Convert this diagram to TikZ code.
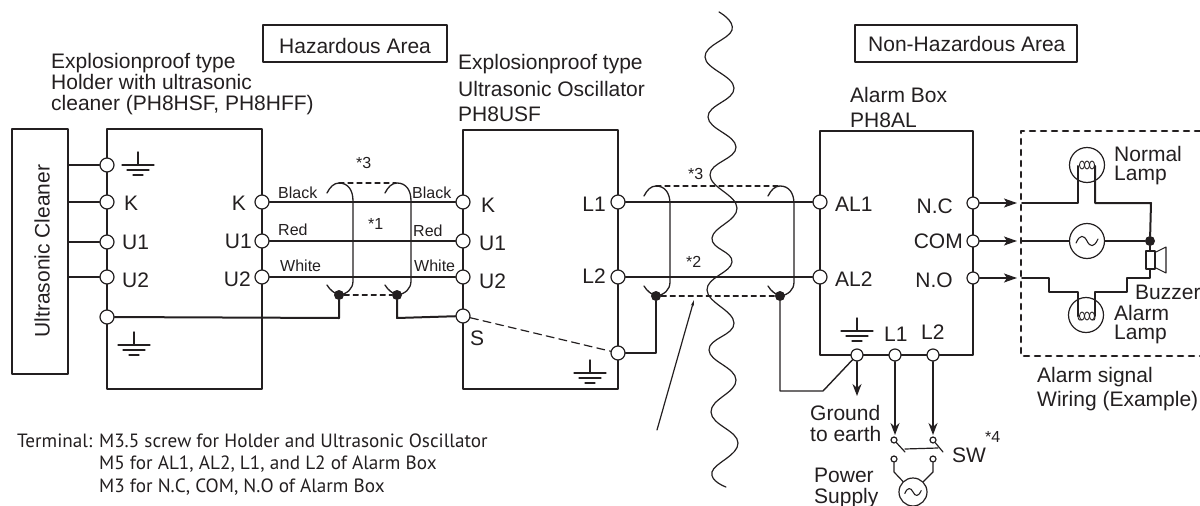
\documentclass[tikz,border=0pt]{standalone}
\usepackage{fontspec}
\setmainfont{Liberation Sans}
\newfontfamily\notefont{PT Sans}
\usetikzlibrary{arrows.meta}
\definecolor{ink}{HTML}{231F20}
\tikzset{
  txt/.style={anchor=base west, inner sep=0pt, text=ink, align=left, font=\fontsize{21}{21}\selectfont},
  txtr/.style={txt, anchor=base east},
  small/.style={txt, font=\fontsize{16}{16}\selectfont},
  heavybox/.style={draw=ink, line width=2.8pt},
  thinbox/.style={draw=ink, line width=1.8pt},
  wire/.style={draw=ink, line width=2pt},
  thinwire/.style={draw=ink, line width=1.2pt},
  shieldline/.style={draw=ink, line width=1.3pt},
  shielddash/.style={draw=ink, line width=1.2pt, dash pattern=on 5pt off 4pt},
  term/.style={circle, draw=ink, fill=white, line width=1.2pt, inner sep=0pt, minimum size=14pt},
  termsm/.style={term, minimum size=12pt},
  contact/.style={term, minimum size=6pt},
  blackdot/.style={circle, fill=ink, inner sep=0pt, minimum size=10pt},
  lampring/.style={circle, draw=ink, line width=1.2pt, inner sep=0pt, minimum size=35pt},
  tiparrow/.style={thinwire, -{Stealth[length=13pt,width=9pt,inset=3pt]}},
  gnd/.pic={
    \draw[ink, line width=1.4pt] (0,-13) -- (0,0);
    \draw[ink, line width=1.2pt] (-16,0) -- (16,0);
    \draw[ink, line width=1.2pt] (-11,5) -- (11,5);
    \draw[ink, line width=1.2pt] (-5,10) -- (5,10);
  },
  acwave/.pic={
    \draw[ink, line width=1.1pt] (-11,2) .. controls (-7,-7) and (-3,-6) .. (0,0) .. controls (3,6) and (7,7) .. (11,-2);
  },
}
\newcommand{\cableshield}[3]{
  \draw[shieldline] ({#1-12},{#2+10}) .. controls ({#1-9},{#2+4}) and ({#1-5},{#2}) .. (#1,#2)
    .. controls ({#1+9},{#2}) and ({#1+14},{#2+7}) .. ({#1+14},{#2+18})
    -- ({#1+14},{#3-14}) .. controls ({#1+14},{#3-6}) and ({#1+8},{#3-1}) .. (#1,#3)
    .. controls ({#1-5},{#3-2}) and ({#1-9},{#3-5}) .. ({#1-12},{#3-10});
}
\begin{document}
\begin{tikzpicture}[line cap=round, line join=round, x=1pt, y=-1pt]
  \useasboundingbox (0,0) rectangle (1200,506);

  \draw[thinbox] (263,25) rectangle (447,62);
  \draw[thinbox] (855,25) rectangle (1077,62);
  \draw[thinbox] (12,129) rectangle (68,374);
  \draw[heavybox] (107,129) rectangle (262,389);
  \draw[heavybox] (463,130) rectangle (618,389);
  \draw[heavybox] (820,131) rectangle (973,355);
  \draw[ink, line width=2.6pt, dash pattern=on 5pt off 6pt] (1200,131) -- (1021,131) -- (1021,356) -- (1200,356);

  \draw[ink, line width=1.2pt] plot[smooth, tension=0.75] coordinates {(719,12) (732,30) (705,57) (734,88) (708,117) (736,147) (710,175) (737,208) (712,238) (732,262) (707,290) (734,323) (709,350) (736,380) (711,412) (738,443) (712,472) (726,487)};

  \node[txt] (hazard) at (279,53) {Hazardous Area};
  \node[txt] (nonhazard) at (868,51) {Non-Hazardous Area};
  \node[txt] (holdername) at (51,110) {Explosionproof type\\Holder with ultrasonic\\cleaner (PH8HSF, PH8HFF)};
  \node[txt] (oscname) at (458,121) {Explosionproof type\\[6pt]Ultrasonic Oscillator\\[4pt]PH8USF};
  \node[txt] (alarmname) at (850,127) {Alarm Box\\[4pt]PH8AL};
  \node[txt, rotate=90, anchor=center] (cleanername) at (42,251) {Ultrasonic Cleaner};

  \node[term] (hE) at (107,165) {};
  \node[term] (hKa) at (107,202) {};
  \node[term] (hUa) at (107,242) {};
  \node[term] (hVa) at (107,277) {};
  \node[term] (hS) at (107,317) {};
  \node[term] (hK) at (262,202) {};
  \node[term] (hU) at (262,241) {};
  \node[term] (hV) at (262,277) {};
  \node[term] (oK) at (463,202) {};
  \node[term] (oU) at (463,241) {};
  \node[term] (oV) at (463,277) {};
  \node[term] (oS) at (463,316) {};
  \node[term] (oLa) at (618,202) {};
  \node[term] (oLb) at (618,277) {};
  \node[term] (oG) at (618,353) {};
  \node[term] (aLa) at (820,202) {};
  \node[term] (aLb) at (820,277) {};
  \node[termsm] (aNC) at (973,203) {};
  \node[termsm] (aCM) at (973,241) {};
  \node[termsm] (aNO) at (973,278) {};
  \node[termsm] (aG) at (857,355) {};
  \node[termsm] (aPa) at (895,355) {};
  \node[termsm] (aPb) at (933,355) {};

  \pic at (138,165) {gnd};
  \pic at (134,345) {gnd};
  \pic at (590,373) {gnd};
  \pic at (857,331) {gnd};

  \draw[wire] (68,165) -- (hE);
  \draw[wire] (68,202) -- (hKa);
  \draw[wire] (68,242) -- (hUa);
  \draw[wire] (68,277) -- (hVa);

  \draw[wire] (hK) -- (oK);
  \draw[wire] (hU) -- (oU);
  \draw[wire] (hV) -- (oV);
  \draw[wire] (oLa) -- (aLa);
  \draw[wire] (oLb) -- (aLb);

  \node[blackdot] (dotA) at (339,295) {};
  \node[blackdot] (dotB) at (397,295) {};
  \node[blackdot] (dotC) at (656,296) {};
  \node[blackdot] (dotD) at (780,296) {};
  \coordinate (topA) at (339,183);
  \coordinate (topB) at (396,183);
  \coordinate (topC) at (656,186);
  \coordinate (topD) at (778,186);

  \cableshield{339}{183}{295}
  \cableshield{397}{183}{295}
  \cableshield{656}{186}{296}
  \cableshield{780}{186}{296}
  \draw[shielddash] (topA) -- (topB);
  \draw[shielddash] (dotA) -- (dotB);
  \draw[shielddash] (topC) -- (topD);
  \draw[shielddash] (dotC) -- (dotD);

  \draw[wire] (hS) -- (339,318) -- (dotA);
  \draw[wire] (dotB) -- (397,318) -- (oS);
  \draw[thinwire, dash pattern=on 8pt off 5pt] (oS) -- (oG);
  \draw[wire] (dotC) -- (656,353) -- (oG);
  \draw[draw=ink, line width=1.4pt] (dotD) -- (780,391) -- (823,391) -- (aG);
  \draw[thinwire, -{Stealth[length=6pt,width=3pt]}] (657,430) -- (694,300);

  \node[small] (noteA) at (356,168) {*3};
  \node[small] (noteB) at (368,229) {*1};
  \node[small] (noteC) at (688,179) {*3};
  \node[small] (noteD) at (686,267) {*2};
  \node[small] (blackA) at (278,198) {Black};
  \node[small] (blackB) at (412,198) {Black};
  \node[small] (redA) at (278,235) {Red};
  \node[small] (redB) at (413,236) {Red};
  \node[small] (whiteA) at (280,271) {White};
  \node[small] (whiteB) at (414,271) {White};

  \node[txt] (labKa) at (124,210) {K};
  \node[txt] (labUa) at (122,249) {U1};
  \node[txt] (labVa) at (122,287) {U2};
  \node[txtr] (labKb) at (246,210) {K};
  \node[txtr] (labUb) at (252,248) {U1};
  \node[txtr] (labVb) at (251,286) {U2};
  \node[txt] (labKc) at (481,212) {K};
  \node[txt] (labUc) at (479,250) {U1};
  \node[txt] (labVc) at (479,288) {U2};
  \node[txt] (labS) at (470,345) {S};
  \node[txtr] (labLa) at (606,211) {L1};
  \node[txtr] (labLb) at (606,283) {L2};
  \node[txt] (labALa) at (835,211) {AL1};
  \node[txt] (labALb) at (835,286) {AL2};
  \node[txtr] (labNC) at (953,213) {N.C};
  \node[txtr] (labCM) at (963,248) {COM};
  \node[txtr] (labNO) at (953,287) {N.O};
  \node[txt] (labPa) at (884,341) {L1};
  \node[txt] (labPb) at (921,339) {L2};

  \node[lampring] (lampN) at (1087,165) {};
  \node[lampring] (lampA) at (1086,315) {};
  \node[lampring] (source) at (1087,241) {};
  \pic at (1087,241) {acwave};
  \node[blackdot] (dotE) at (1150,241) {};

  \draw[tiparrow] (aNC) -- (1017,203);
  \draw[tiparrow] (aCM) -- (1017,241);
  \draw[tiparrow] (aNO) -- (1017,278);
  \draw[wire] (1022,203) -- (1078,203) -- (1078,166);
  \draw[wire] (1095,166) -- (1095,203) -- (1151,203) -- (dotE);
  \draw[wire] (1022,241) -- (source);
  \draw[wire] (source) -- (dotE);
  \draw[wire] (1022,278) -- (1049,278) -- (1049,292) -- (1078,292) -- (1078,316);
  \draw[wire] (1095,316) -- (1095,292) -- (1127,292) -- (1127,278) -- (1150,278) -- (1150,269);
  \foreach \cx in {1082,1087,1092} {
    \draw[ink, line width=0.9pt] (\cx,165) ellipse [x radius=2.5pt, y radius=4pt];
    \draw[ink, line width=0.9pt] (\cx,316) ellipse [x radius=2.5pt, y radius=4pt];
  }
  \draw[ink, line width=0.9pt] (1078,316) .. controls (1078,320) and (1080,321) .. (1082,320);
  \draw[ink, line width=0.9pt] (1095,316) .. controls (1095,320) and (1094,321) .. (1092,320);

  \draw[ink, line width=1.1pt] (1146,251) rectangle (1155,269);
  \draw[ink, line width=1.1pt] (1156,252) -- (1166,247) -- (1166,273) -- (1156,268);
  \draw[wire] (dotE) -- (1150,251);

  \node[txt] (normal) at (1114,180) {Normal\\[-2pt]Lamp};
  \node[txt] (alarmlamp) at (1114,339) {Alarm\\[-2pt]Lamp};
  \node[txt] (buzzer) at (1135,299) {Buzzer};
  \node[txt] (wiring) at (1037,406) {Alarm signal\\[3pt]Wiring (Example)};

  \node[contact] (swA) at (894,440) {};
  \node[contact] (swB) at (933,440) {};
  \node[contact] (swC) at (894,459) {};
  \node[contact] (swD) at (933,459) {};
  \node[circle, draw=ink, line width=1.2pt, inner sep=0pt, minimum size=28pt] (supply) at (913,492) {};
  \pic[scale=0.75] at (913,492) {acwave};

  \draw[thinwire, line width=1.4pt, -{Stealth[length=12pt,width=9pt]}] (aG) -- (857,396);
  \draw[thinwire, line width=1.4pt, -{Stealth[length=12pt,width=9pt]}] (aPa) -- (895,435);
  \draw[thinwire, line width=1.4pt, -{Stealth[length=12pt,width=9pt]}] (aPb) -- (933,435);
  \draw[thinwire] (swA) -- (905,452);
  \draw[thinwire] (swB) -- (943,452);
  \draw[thinwire] (905,449) -- (938,448);
  \draw[thinwire] (swC) -- (894,472) -- (supply);
  \draw[thinwire] (swD) -- (933,472) -- (supply);

  \node[txt] (ground) at (810,441) {Ground\\to earth};
  \node[txt] (power) at (814,503) {Power\\Supply};
  \node[txt] (switch) at (952,462) {SW};
  \node[small] (noteE) at (985,442) {*4};

  \node[txt, font=\notefont\fontsize{19.2}{22.5}\selectfont] (terminal) at (17,492) {Terminal: M3.5 screw for Holder and Ultrasonic Oscillator\\
    \hspace*{82pt}M5 for AL1, AL2, L1, and L2 of Alarm Box\\
    \hspace*{82pt}M3 for N.C, COM, N.O of Alarm Box};
\end{tikzpicture}
\end{document}
